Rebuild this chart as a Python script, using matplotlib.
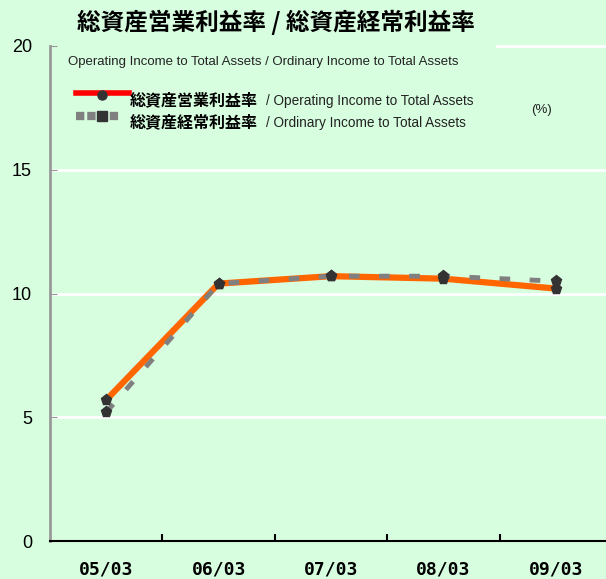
#!/usr/bin/env python3
# ROA chart: operating / ordinary income to total assets

import matplotlib.pyplot as plt
from matplotlib.lines import Line2D

periods = ['05/03', '06/03', '07/03', '08/03', '09/03']
operating = [5.7, 10.4, 10.7, 10.6, 10.2]
ordinary = [5.2, 10.4, 10.7, 10.7, 10.5]
yticks = [0, 5, 10, 15, 20]

BG = '#d8fee0'
W, H = 606, 579
JP = ['Noto Sans CJK JP', 'DejaVu Sans']
EN = ['Liberation Sans', 'DejaVu Sans']

def fx(x):
    return x / W

def fy(y):
    return 1 - y / H

fig = plt.figure(figsize=(W / 100, H / 100), dpi=100, facecolor=BG)
ax = fig.add_axes([fx(50), fy(541), fx(612) - fx(50), fy(46) - fy(541)])
ax.set_facecolor(BG)

x = list(range(len(periods)))
ax.set_xlim(-0.5, len(periods) - 0.5)
ax.set_ylim(0, 20)

# white grid lines, the top one is partly covered by the legend box
for v in yticks[1:-1]:
    ax.axhline(v, color='white', lw=2, zorder=1)
ax.axhline(20, xmin=0.795, color='white', lw=2, zorder=1, clip_on=False)

ax.plot(x, operating, color='#ff6600', lw=4.5, zorder=3, solid_capstyle='butt')
ax.plot(x, ordinary, color='#808080', lw=3.5, ls=(0, (2.2, 4.0)), zorder=4)
ax.plot(x, operating, ls='none', marker='p', ms=8, color='#333333', zorder=5)
ax.plot(x, ordinary, ls='none', marker='p', ms=8, color='#333333', zorder=5)

for s in ['top', 'right']:
    ax.spines[s].set_visible(False)
ax.spines['left'].set_color('#999999')
ax.spines['left'].set_linewidth(2)
ax.spines['bottom'].set_color('black')
ax.spines['bottom'].set_linewidth(1.5)

ax.set_yticks(yticks)
ax.set_yticklabels([str(v) for v in yticks], family=EN, fontsize=13)
ax.tick_params(axis='y', direction='in', length=5, color='#999999', pad=13)

ax.set_xticks(x)
ax.set_xticklabels(periods, family='DejaVu Sans Mono', fontweight='bold', fontsize=13)
ax.set_xticks([i + 0.5 for i in x[:-1]], minor=True)
ax.tick_params(axis='x', which='major', length=0, pad=14)
ax.tick_params(axis='x', which='minor', direction='in', length=5, width=1.5, color='black')

# title and legend area
fig.text(fx(276), fy(22), '総資産営業利益率 / 総資産経常利益率', family=JP,
         fontweight='bold', fontsize=17, ha='center', va='center')
fig.text(fx(68), fy(62), 'Operating Income to Total Assets / Ordinary Income to Total Assets',
         family=EN, fontsize=9.5, ha='left', va='center', color='#222222')

fig.add_artist(Line2D([fx(76), fx(129)], [fy(93), fy(93)], color='#ff0000', lw=4,
                      transform=fig.transFigure))
fig.add_artist(Line2D([fx(102)], [fy(95)], marker='o', ms=6.5, color='#333333',
                      transform=fig.transFigure))
fig.add_artist(Line2D([fx(76), fx(121)], [fy(116), fy(116)], color='#808080', lw=6,
                      ls=(0, (1.0, 0.35)), transform=fig.transFigure))
fig.add_artist(Line2D([fx(102)], [fy(116)], marker='s', ms=6.5, color='#333333',
                      transform=fig.transFigure))

fig.text(fx(130), fy(100), '総資産営業利益率', family=JP, fontweight='bold',
         fontsize=11.5, ha='left', va='center')
fig.text(fx(266), fy(101), '/ Operating Income to Total Assets', family=EN,
         fontsize=9.8, ha='left', va='center', color='#222222')
fig.text(fx(130), fy(122), '総資産経常利益率', family=JP, fontweight='bold',
         fontsize=11.5, ha='left', va='center')
fig.text(fx(266), fy(123), '/ Ordinary Income to Total Assets', family=EN,
         fontsize=9.8, ha='left', va='center', color='#222222')
fig.text(fx(542), fy(110), '(%)', family=EN, fontsize=9.5, ha='center', va='center',
         color='#222222')

fig.savefig('out.png', dpi=100, facecolor=BG)
